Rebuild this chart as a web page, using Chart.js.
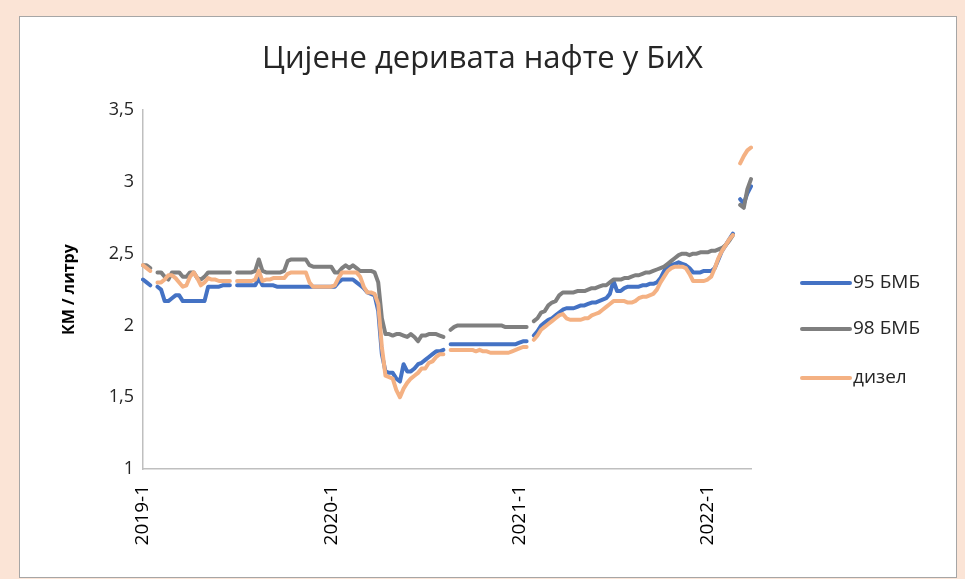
<!DOCTYPE html>
<html>
<head>
<meta charset="utf-8">
<script src="https://cdn.jsdelivr.net/npm/chart.js@4.4.1/dist/chart.umd.min.js"></script>
<style>
  html, body { margin: 0; padding: 0; background: #FBE4D6; width: 965px; height: 579px; overflow: hidden; }
  #box { position: absolute; left: 19px; top: 16px; width: 936px; height: 560px; background: #ffffff; border: 1px solid #A6A6A6; }
  #c { position: absolute; left: 0; top: 0; }
</style>
</head>
<body>
<div id="box"></div>
<canvas id="c" width="965" height="579"></canvas>
<script>
// ---- data ----
const years = [2019, 2020, 2021, 2022];
const weeksPerYear = [52, 52, 52, 13];
const seriesNames = ['95 БМБ', '98 БМБ', 'дизел'];
const yTicks = [1, 1.5, 2, 2.5, 3, 3.5];

const bmb95 = [
  2.32,2.30,2.28,null,2.27,2.25,2.17,2.17,2.19,2.21,
  2.21,2.17,2.17,2.17,2.17,2.17,2.17,2.17,2.27,2.27,
  2.27,2.27,2.28,2.28,2.28,null,2.28,2.28,2.28,2.28,
  2.28,2.28,2.33,2.28,2.28,2.28,2.28,2.27,2.27,2.27,
  2.27,2.27,2.27,2.27,2.27,2.27,2.27,2.27,2.27,2.27,
  2.27,2.27,2.27,2.27,2.30,2.32,2.32,2.32,2.32,2.30,
  2.28,2.26,2.23,2.22,2.21,2.10,1.80,1.68,1.67,1.67,
  1.63,1.61,1.73,1.68,1.68,1.70,1.73,1.74,1.76,1.78,
  1.80,1.82,1.82,1.83,null,1.87,1.87,1.87,1.87,1.87,
  1.87,1.87,1.87,1.87,1.87,1.87,1.87,1.87,1.87,1.87,
  1.87,1.87,1.87,1.87,1.88,1.89,1.89,null,1.93,1.96,
  2.00,2.02,2.04,2.05,2.07,2.09,2.11,2.12,2.12,2.12,
  2.13,2.14,2.14,2.15,2.16,2.16,2.17,2.18,2.19,2.22,
  2.31,2.24,2.24,2.26,2.27,2.27,2.27,2.27,2.28,2.28,
  2.29,2.29,2.30,2.33,2.38,2.41,2.42,2.43,2.44,2.43,
  2.42,2.40,2.37,2.37,2.37,2.38,2.38,2.38,2.40,2.46,
  2.52,2.56,2.60,2.64,null,2.88,2.85,2.92,2.97
];
const bmb98 = [
  2.42,2.42,2.40,null,2.37,2.37,2.34,2.32,2.37,2.37,
  2.37,2.34,2.34,2.37,2.37,2.33,2.32,2.34,2.37,2.37,
  2.37,2.37,2.37,2.37,2.37,null,2.37,2.37,2.37,2.37,
  2.37,2.38,2.46,2.38,2.37,2.37,2.37,2.37,2.37,2.38,
  2.45,2.46,2.46,2.46,2.46,2.46,2.42,2.41,2.41,2.41,
  2.41,2.41,2.41,2.37,2.37,2.40,2.42,2.40,2.42,2.40,
  2.38,2.38,2.38,2.38,2.37,2.30,2.05,1.94,1.94,1.93,
  1.94,1.94,1.93,1.92,1.94,1.92,1.89,1.93,1.93,1.94,
  1.94,1.94,1.93,1.92,null,1.97,1.99,2.00,2.00,2.00,
  2.00,2.00,2.00,2.00,2.00,2.00,2.00,2.00,2.00,2.00,
  1.99,1.99,1.99,1.99,1.99,1.99,1.99,null,2.03,2.05,
  2.09,2.10,2.14,2.16,2.17,2.21,2.23,2.23,2.23,2.23,
  2.24,2.24,2.24,2.25,2.26,2.26,2.27,2.28,2.28,2.30,
  2.32,2.32,2.32,2.33,2.33,2.34,2.35,2.35,2.36,2.37,
  2.37,2.38,2.39,2.40,2.41,2.43,2.45,2.47,2.49,2.50,
  2.50,2.49,2.50,2.50,2.51,2.51,2.51,2.52,2.52,2.53,
  2.54,2.56,2.59,2.63,null,2.84,2.82,2.95,3.02
];
const diesel = [
  2.42,2.40,2.38,null,2.30,2.30,2.32,2.35,2.35,2.33,
  2.30,2.27,2.28,2.34,2.37,2.33,2.28,2.30,2.33,2.32,
  2.32,2.31,2.31,2.31,2.31,null,2.31,2.31,2.31,2.31,
  2.31,2.32,2.38,2.31,2.32,2.32,2.33,2.33,2.33,2.33,
  2.36,2.37,2.37,2.37,2.37,2.37,2.30,2.27,2.27,2.27,
  2.27,2.27,2.27,2.28,2.33,2.37,2.37,2.37,2.37,2.37,
  2.34,2.27,2.23,2.23,2.22,2.15,1.85,1.65,1.64,1.63,
  1.55,1.50,1.56,1.60,1.63,1.65,1.67,1.70,1.70,1.74,
  1.75,1.78,1.80,1.80,null,1.83,1.83,1.83,1.83,1.83,
  1.83,1.83,1.82,1.83,1.82,1.82,1.81,1.81,1.81,1.81,
  1.81,1.81,1.82,1.83,1.84,1.85,1.85,null,1.90,1.93,
  1.97,1.99,2.01,2.03,2.05,2.07,2.08,2.05,2.04,2.04,
  2.04,2.04,2.05,2.05,2.07,2.08,2.09,2.11,2.13,2.15,
  2.17,2.17,2.17,2.17,2.16,2.16,2.17,2.19,2.20,2.20,
  2.21,2.22,2.25,2.30,2.34,2.38,2.40,2.41,2.41,2.41,
  2.40,2.36,2.31,2.31,2.31,2.31,2.32,2.34,2.40,2.47,
  2.52,2.56,2.60,2.63,null,3.13,3.18,3.22,3.24
];

// category labels: year-week
const categories = [];
years.forEach((y, k) => { for (let w = 1; w <= weeksPerYear[k]; w++) categories.push(y + '-' + w); });

const colors = ['#4472C4', '#7F7F7F', '#F4B183'];
const FONT = '"Open Sans", "Noto Sans", sans-serif';

const customLegend = {
  id: 'customLegend',
  afterDraw(chart) {
    const ctx = chart.ctx;
    const ys = [283, 329, 378];
    ctx.save();
    chart.data.datasets.forEach((ds, i) => {
      ctx.strokeStyle = ds.borderColor;
      ctx.lineWidth = 4;
      ctx.lineCap = 'round';
      ctx.beginPath();
      ctx.moveTo(802, ys[i]);
      ctx.lineTo(850, ys[i]);
      ctx.stroke();
      ctx.fillStyle = '#262626';
      ctx.font = '19px ' + FONT;
      ctx.textBaseline = 'middle';
      ctx.textAlign = 'left';
      ctx.fillText(ds.label, 853, ys[i]);
    });
    ctx.restore();
  }
};

new Chart(document.getElementById('c'), {
  type: 'line',
  data: {
    labels: categories,
    datasets: [
      { label: seriesNames[0], data: bmb95, borderColor: colors[0], order: 3 },
      { label: seriesNames[1], data: bmb98, borderColor: colors[1], order: 2 },
      { label: seriesNames[2], data: diesel, borderColor: colors[2], order: 1 }
    ]
  },
  options: {
    responsive: false,
    animation: false,
    spanGaps: false,
    elements: {
      line: { borderWidth: 4, tension: 0, borderJoinStyle: 'round', borderCapStyle: 'round', fill: false },
      point: { radius: 0, hoverRadius: 0 }
    },
    layout: { padding: { left: 0, right: 0, top: 0, bottom: 0 } },
    plugins: {
      legend: { display: false },
      tooltip: { enabled: false },
      title: {
        display: true,
        text: 'Цијене деривата нафте у БиХ',
        color: '#262626',
        font: { family: FONT, size: 31, weight: 'normal' },
        padding: { top: 41, bottom: 32 }
      }
    },
    scales: {
      x: {
        type: 'category',
        offset: false,
        grid: { display: false, drawTicks: false },
        border: { display: true, color: '#BFBFBF', width: 1.5 },
        ticks: {
          autoSkip: false,
          maxRotation: 90,
          minRotation: 90,
          padding: 16,
          color: '#000',
          font: { family: FONT, size: 19 },
          callback: function (v, i) {
            const lab = categories[i];
            return lab.split('-')[1] === '1' ? lab : '';
          }
        },
        afterFit(scale) { scale.height = 110; }
      },
      y: {
        min: 1,
        max: 3.5,
        afterBuildTicks(scale) { scale.ticks = yTicks.map(v => ({ value: v })); },
        grid: { display: false, drawTicks: false },
        border: { display: true, color: '#BFBFBF', width: 1.5 },
        ticks: {
          padding: 9,
          color: '#262626',
          font: { family: FONT, size: 18 },
          callback: v => String(v).replace('.', ',')
        },
        title: {
          display: true,
          text: 'КМ / литру',
          color: '#000',
          font: { family: FONT, size: 16, weight: 'bold' },
          padding: { top: 60, bottom: 0 }
        },
        afterFit(scale) { scale.width = 143; }
      },
      legendSpace: {
        type: 'linear',
        position: 'right',
        display: true,
        grid: { display: false, drawTicks: false },
        border: { display: false },
        ticks: { display: false },
        afterFit(scale) { scale.width = 214; }
      }
    }
  },
  plugins: [customLegend]
});
</script>
</body>
</html>
